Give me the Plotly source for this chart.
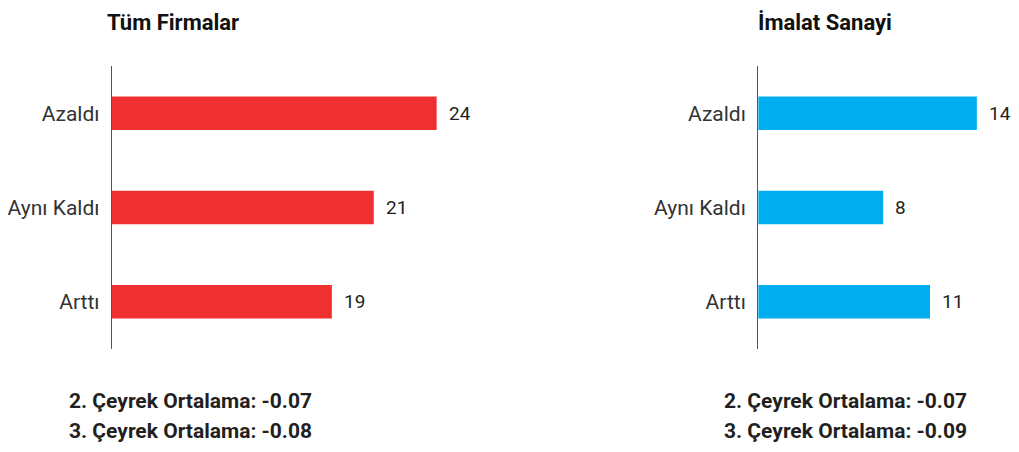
import plotly.graph_objects as go

# page body has an 8px margin on every side; figure fits inside it
OFF = 8
W, H = 1019 - 2 * OFF, 452 - 2 * OFF

categories = ["Azaldı", "Aynı Kaldı", "Arttı"]
tum_firmalar = [24, 21, 19]
imalat_sanayi = [14, 8, 11]
titles = ["Tüm Firmalar", "İmalat Sanayi"]
notes_left = ["2. Çeyrek Ortalama: -0.07", "3. Çeyrek Ortalama: -0.08"]
notes_right = ["2. Çeyrek Ortalama: -0.07", "3. Çeyrek Ortalama: -0.09"]

RED = "#EF3030"
BLUE = "#00AEEF"
TXT = "#231F20"
FONT = "Roboto"

def px(x):
    return (x - OFF) / W

def py(y):
    return 1 - (y - OFF) / H

fig = go.Figure()
fig.add_trace(go.Bar(x=tum_firmalar, y=categories, orientation="h",
                     marker=dict(color=RED, line=dict(width=0)),
                     xaxis="x", yaxis="y", hoverinfo="skip"))
fig.add_trace(go.Bar(x=imalat_sanayi, y=categories, orientation="h",
                     marker=dict(color=BLUE, line=dict(width=0)),
                     xaxis="x2", yaxis="y2", hoverinfo="skip"))

ann = []
for vals, xr, yr in [(tum_firmalar, "x", "y"), (imalat_sanayi, "x2", "y2")]:
    for c, v in zip(categories, vals):
        ann.append(dict(x=v, y=c, xref=xr, yref=yr, text=str(v), showarrow=False,
                        xanchor="left", yanchor="middle", xshift=10,
                        font=dict(family=FONT, size=19, color=TXT)))

# titles
for t, x0 in zip(titles, [103, 755]):
    ann.append(dict(x=px(x0), y=1, xref="paper", yref="paper", text=f"<b>{t}</b>",
                    showarrow=False, xanchor="left", yanchor="top",
                    font=dict(family=FONT, size=22, color="#111111")))

# notes
for notes, xc in [(notes_left, 188.5), (notes_right, 845)]:
    for t, yc in zip(notes, [400.5, 431]):
        ann.append(dict(x=px(xc), y=py(yc), xref="paper", yref="paper", text=f"<b>{t}</b>",
                        showarrow=False, xanchor="center", yanchor="middle",
                        font=dict(family=FONT, size=21, color=TXT)))

xcommon = dict(showgrid=False, zeroline=False, showline=False, showticklabels=False,
               ticks="", fixedrange=True)
ycommon = dict(type="category", categoryorder="array", categoryarray=categories,
               autorange="reversed", showgrid=False, zeroline=False, showline=True,
               linecolor="#555555", linewidth=1.2, ticks="", ticklabelstandoff=7,
               tickfont=dict(family=FONT, size=21, color="#333333"), fixedrange=True)

fig.update_layout(
    width=W, height=H,
    margin=dict(l=0, r=0, t=0, b=0),
    paper_bgcolor="white", plot_bgcolor="white",
    showlegend=False, bargap=0.645,
    xaxis=dict(domain=[px(110), px(500)], range=[8.5, 8.5 + 390 / 21], anchor="y", **xcommon),
    yaxis=dict(domain=[py(349), py(66)], anchor="x", **ycommon),
    xaxis2=dict(domain=[px(757.7), px(1011)], range=[0, 253.3 / 15.65], anchor="y2", **xcommon),
    yaxis2=dict(domain=[py(349), py(66)], anchor="x2", **ycommon),
    annotations=ann,
)

fig.write_html("out.html")
